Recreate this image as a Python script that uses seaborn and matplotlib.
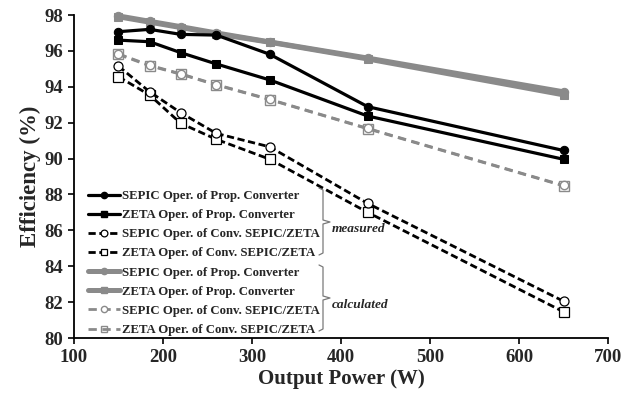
import matplotlib
matplotlib.use("Agg")
import matplotlib.pyplot as plt
from matplotlib.lines import Line2D
import seaborn as sns
import pandas as pd

power = [150, 185, 220, 260, 320, 430, 650]

sepic_prop_meas = [97.07, 97.2, 96.92, 96.88, 95.81, 92.89, 90.45]
zeta_prop_meas = [96.6, 96.51, 95.9, 95.27, 94.38, 92.37, 89.96]
sepic_conv_meas = [95.15, 93.72, 92.55, 91.4, 90.65, 87.5, 82.05]
zeta_conv_meas = [94.56, 93.54, 91.96, 91.07, 89.96, 87.0, 81.46]
sepic_prop_calc = [97.95, 97.65, 97.35, 97.0, 96.5, 95.6, 93.72]
zeta_prop_calc = [97.9, 97.6, 97.3, 96.95, 96.48, 95.55, 93.55]
sepic_conv_calc = [95.83, 95.2, 94.72, 94.12, 93.3, 91.68, 88.5]
zeta_conv_calc = [95.8, 95.17, 94.7, 94.1, 93.28, 91.66, 88.48]

labels = [
    "SEPIC Oper. of Prop. Converter",
    "ZETA Oper. of Prop. Converter",
    "SEPIC Oper. of Conv. SEPIC/ZETA",
    "ZETA Oper. of Conv. SEPIC/ZETA",
    "SEPIC Oper. of Prop. Converter",
    "ZETA Oper. of Prop. Converter",
    "SEPIC Oper. of Conv. SEPIC/ZETA",
    "ZETA Oper. of Conv. SEPIC/ZETA",
]
x_ticks = [100, 200, 300, 400, 500, 600, 700]
y_ticks = [80, 82, 84, 86, 88, 90, 92, 94, 96, 98]

sns.set_theme(style="white")
plt.rcParams["font.family"] = ["Liberation Serif", "DejaVu Serif"]
plt.rcParams["font.weight"] = "bold"

W, H = 631, 394
fig = plt.figure(figsize=(W / 100, H / 100), dpi=100)
ax = fig.add_axes([74 / W, 1 - 338 / H, (608 - 74) / W, (338 - 15) / H])

black = "#000000"
gray = "#8a8a8a"

series = [
    (sepic_prop_meas, dict(color=black, lw=2.3, marker="o", ms=6, mfc=black, mec=black, ls="-")),
    (zeta_prop_meas, dict(color=black, lw=2.3, marker="s", ms=6, mfc=black, mec=black, ls="-")),
    (sepic_conv_meas, dict(color=black, lw=2.0, marker="o", ms=6.5, mfc="white", mec=black, mew=0.9, ls=(0, (2.6, 1.3)))),
    (zeta_conv_meas, dict(color=black, lw=2.0, marker="s", ms=6.5, mfc="white", mec=black, mew=0.9, ls=(0, (2.6, 1.3)))),
    (sepic_prop_calc, dict(color=gray, lw=3.6, marker="o", ms=6, mfc=gray, mec=gray, ls="-")),
    (zeta_prop_calc, dict(color=gray, lw=3.6, marker="s", ms=6, mfc=gray, mec=gray, ls="-")),
    (sepic_conv_calc, dict(color=gray, lw=2.0, marker="o", ms=6, mfc="white", mec=gray, mew=1.0, ls=(0, (3.0, 2.0)))),
    (zeta_conv_calc, dict(color=gray, lw=2.0, marker="s", ms=6.5, mfc="none", mec=gray, mew=1.0, ls=(0, (3.0, 2.0)))),
]

handles = []
for i, (vals, st) in enumerate(series):
    df = pd.DataFrame({"P": power, "Eff": vals})
    st = dict(st)
    ls = st.pop("ls")
    sns.lineplot(data=df, x="P", y="Eff", ax=ax, linestyle=ls, clip_on=False,
                 zorder=3 + (8 - i) * 0.1, **st)
    handles.append(Line2D([], [], linestyle=ls, **{k: v for k, v in st.items() if k != "ms"},
                          ms=st["ms"] * 0.75))

ax.set_xlim(100, 700)
ax.set_ylim(80, 98)
ax.set_xticks(x_ticks)
ax.set_yticks(y_ticks)
ax.set_xticklabels([str(t) for t in x_ticks], fontsize=13.5, fontweight="bold")
ax.set_yticklabels([str(t) for t in y_ticks], fontsize=13.5, fontweight="bold")
ax.tick_params(axis="both", direction="out", length=4, width=1.2, color="black", pad=4,
               bottom=True, left=True)
for s in ["top", "right"]:
    ax.spines[s].set_visible(False)
for s in ["left", "bottom"]:
    ax.spines[s].set_color("black")
    ax.spines[s].set_linewidth(1.3)
ax.grid(False)

ax.set_xlabel("Output Power (W)", fontsize=15, fontweight="bold", labelpad=2)
ax.set_ylabel("Efficiency (%)", fontsize=16.5, fontweight="bold", labelpad=2)

leg = ax.legend(handles, labels, loc="upper left", bbox_to_anchor=((88 - 74) / 534, (338 - 190) / 323),
                frameon=False, borderpad=0, borderaxespad=0, handlelength=2.5, handletextpad=0.15,
                labelspacing=0.56, prop={"family": "Liberation Serif", "weight": "bold", "size": 9.2})

def fx(x):
    return x / W

def fy(y):
    return 1 - y / H

for top, bot, mid in [(188, 255, 222), (265, 331, 298)]:
    pts = [(319, top), (323, top + 2), (323, mid - 2), (330, mid), (323, mid + 2), (323, bot - 2), (319, bot)]
    fig.add_artist(Line2D([fx(p[0]) for p in pts], [fy(p[1]) for p in pts],
                          color="#7a7a7a", lw=0.9, transform=fig.transFigure))

fig.text(fx(332), fy(229), "measured", fontsize=9.6, fontstyle="italic", fontweight="bold", va="center", ha="left")
fig.text(fx(332), fy(305), "calculated", fontsize=9.6, fontstyle="italic", fontweight="bold", va="center", ha="left")

fig.savefig("out.png", dpi=100)
